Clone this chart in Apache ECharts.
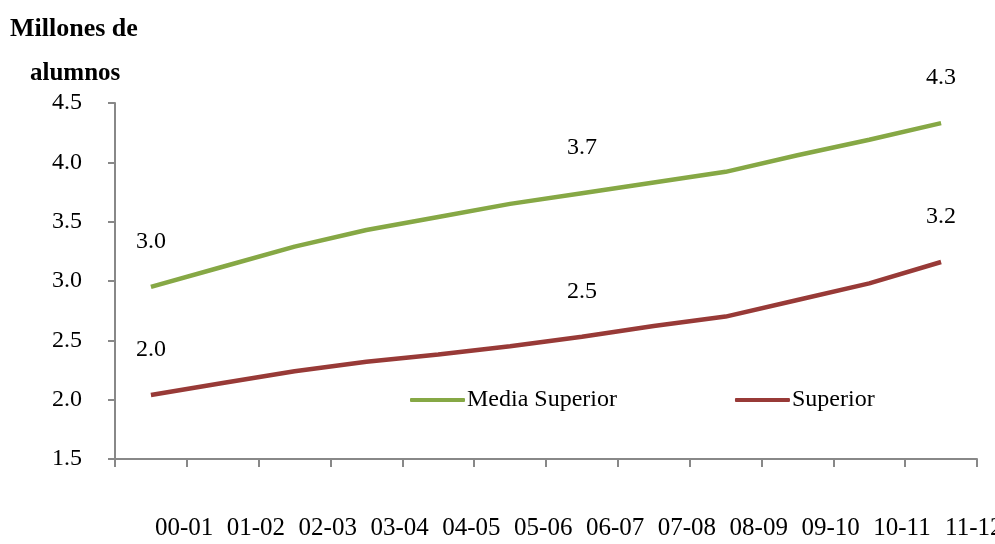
<!DOCTYPE html>
<html>
<head>
<meta charset="utf-8">
<script src="https://cdn.jsdelivr.net/npm/echarts@6/dist/echarts.min.js"></script>
<style>html,body{margin:0;padding:0;background:#fff}#c{width:995px;height:544px}</style>
</head>
<body>
<div id="c"></div>
<script>
var categories = ['00-01','01-02','02-03','03-04','04-05','05-06','06-07','07-08','08-09','09-10','10-11','11-12'];
var mediaSuperior = [2.95, 3.12, 3.29, 3.43, 3.54, 3.65, 3.74, 3.83, 3.92, 4.06, 4.19, 4.33];
var superior = [2.04, 2.14, 2.24, 2.32, 2.38, 2.45, 2.53, 2.62, 2.70, 2.84, 2.98, 3.16];
var labelIdx = [0, 6, 11];
var yTicks = {min: 1.5, max: 4.5, interval: 0.5};

var FONT = '"Liberation Serif", "DejaVu Serif", serif';
function mk(arr) {
  return arr.map(function (v, i) {
    return {value: v, label: {show: labelIdx.indexOf(i) >= 0}};
  });
}
var chart = echarts.init(document.getElementById('c'));
chart.setOption({
  animation: false,
  backgroundColor: '#fff',
  textStyle: {fontFamily: FONT},
  graphic: [{
    type: 'text', left: 10, top: 16,
    style: {text: 'Millones de', font: 'bold 26px ' + FONT, fill: '#000'}
  }, {
    type: 'text', left: 30, top: 61,
    style: {text: 'alumnos', font: 'bold 25px ' + FONT, fill: '#000'}
  }],
  legend: {
    left: 405, top: 383,
    itemWidth: 55, itemHeight: 4, itemGap: 118,
    icon: 'roundRect',
    textStyle: {fontFamily: FONT, fontSize: 24, color: '#000', padding: [0, 0, 0, -3]},
    data: ['Media Superior', 'Superior']
  },
  grid: {left: 115, right: 18, top: 103, bottom: 85, containLabel: false, outerBoundsMode: 'none'},
  xAxis: {
    type: 'category', data: categories, boundaryGap: true,
    axisLine: {lineStyle: {color: '#888', width: 2}},
    axisTick: {show: true, length: 8, alignWithLabel: false, lineStyle: {color: '#888', width: 2}},
    axisLabel: {interval: 0, margin: 57, align: 'left', padding: [0, 0, 0, 4],
      fontFamily: FONT, fontSize: 25, color: '#000', hideOverlap: false},
    splitLine: {show: false}
  },
  yAxis: {
    type: 'value', min: yTicks.min, max: yTicks.max, interval: yTicks.interval,
    axisLine: {show: true, lineStyle: {color: '#888', width: 2}},
    axisTick: {show: true, length: 7, lineStyle: {color: '#888', width: 2}},
    axisLabel: {margin: 33, fontFamily: FONT, fontSize: 24, color: '#000',
      formatter: function (v) { return v.toFixed(1); }},
    splitLine: {show: false}
  },
  series: [{
    name: 'Media Superior', type: 'line', data: mk(mediaSuperior),
    symbol: 'circle', symbolSize: 0, showSymbol: true,
    lineStyle: {color: '#86A845', width: 4.5},
    itemStyle: {color: '#86A845'},
    label: {position: 'top', distance: 33, fontFamily: FONT, fontSize: 24, color: '#000',
      formatter: function (p) { return p.value.toFixed(1); }}
  }, {
    name: 'Superior', type: 'line', data: mk(superior),
    symbol: 'circle', symbolSize: 0, showSymbol: true,
    lineStyle: {color: '#983A37', width: 4.5},
    itemStyle: {color: '#983A37'},
    label: {position: 'top', distance: 33, fontFamily: FONT, fontSize: 24, color: '#000',
      formatter: function (p) { return p.value.toFixed(1); }}
  }]
});
</script>
</body>
</html>
